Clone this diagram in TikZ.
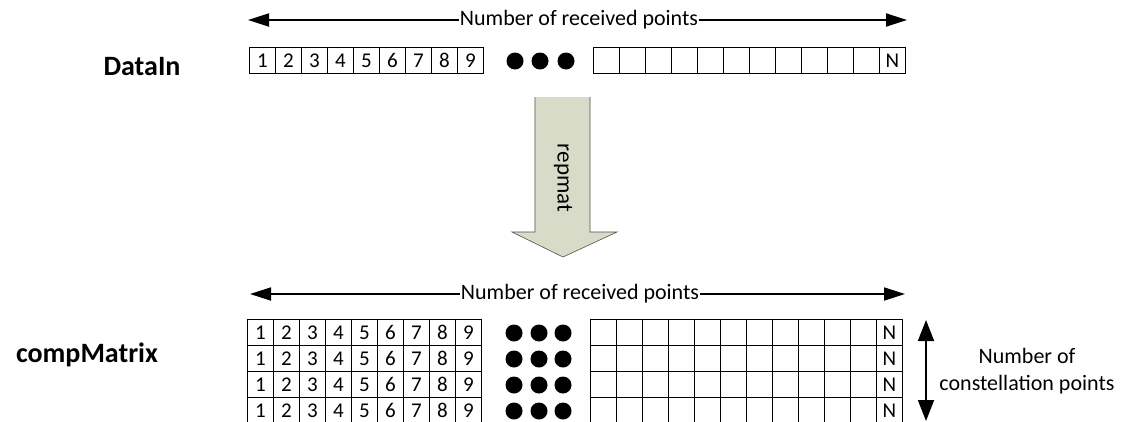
\documentclass[tikz,border=0pt]{standalone}
\usepackage{fontspec}
\setmainfont{Carlito}
\usetikzlibrary{arrows.meta,positioning}
\definecolor{repfill}{RGB}{216,219,200}
\definecolor{repline}{RGB}{80,82,70}

\begin{document}
\begin{tikzpicture}[x=1pt,y=-1pt,>={Triangle[length=21pt,width=13pt]},
  cell/.style={draw,line width=1pt,minimum width=26pt,minimum height=26pt,inner sep=0pt,font=\fontsize{21}{21}\selectfont},
  dot/.style={circle,fill,inner sep=0pt,minimum size=17pt},
  lbl/.style={font=\fontsize{22}{27}\selectfont,inner sep=0.5pt,align=center},
  varname/.style={font=\bfseries\fontsize{28}{28}\selectfont},
  dim/.style={line width=1.8pt}]
\useasboundingbox (0,0) rectangle (1123,421);
% top vector
\node[varname] (datain) at (142,67) {DataIn};
\foreach \i in {1,...,9}
  \node[cell] (in-\i) at ({249.5+26*(\i-0.5)},60.5) {\i};
\foreach \j/\x in {1/515,2/540,3/566}
  \node[dot] (indot-\j) at (\x,61) {};
\foreach \j in {1,...,11}
  \node[cell] (inr-\j) at ({593.5+26*(\j-0.5)},60.5) {};
\node[cell] (inr-12) at ({593.5+26*11.5},60.5) {N};
\node[lbl] (inlbl) at (579,20) {Number of received points};
\coordinate (inL) at (248,20);
\coordinate (inR) at (907,20);
\draw[dim,->] (inlbl) -- (inL);
\draw[dim,->] (inlbl) -- (inR);
% repmat arrow
\fill[repfill] (535,97) -- (590,97) -- (590,232) -- (617,232) -- (563,257) -- (512,232) -- (535,232) -- cycle;
\draw[repline,line width=0.6pt] (535,97) -- (535,232) -- (512,232) -- (563,257) -- (617,232) -- (590,232) -- (590,97);
\node[lbl,font=\fontsize{23}{23}\selectfont,rotate=-90] (rep) at (563,178) {repmat};
% matrix
\node[varname] (comp) at (87,355) {compMatrix};
\foreach \r in {1,...,4}{
  \foreach \i in {1,...,9}
    \node[cell] (m-\r-\i) at ({247.5+26*(\i-0.5)},{319.5+26*(\r-0.5)}) {\i};
  \foreach \j/\x in {1/514,2/539,3/563}
    \node[dot] (mdot-\r-\j) at (\x,{320+26*(\r-0.5)}) {};
  \foreach \j in {1,...,11}
    \node[cell] (mr-\r-\j) at ({590.5+26*(\j-0.5)},{319.5+26*(\r-0.5)}) {};
  \node[cell] (mr-\r-12) at ({590.5+26*11.5},{319.5+26*(\r-0.5)}) {N};
}
\node[lbl] (mlbl) at (580,294) {Number of received points};
\coordinate (mL) at (250,294);
\coordinate (mR) at (905,294);
\draw[dim,->] (mlbl) -- (mL);
\draw[dim,->] (mlbl) -- (mR);
\coordinate (cT) at (926,320);
\coordinate (cB) at (926,421);
\draw[dim,<->,>={Triangle[length=21pt,width=16pt]}] (cT) -- (cB);
\node[lbl] (clbl) at (1027,371) {Number of\\constellation points};
\end{tikzpicture}
\end{document}
